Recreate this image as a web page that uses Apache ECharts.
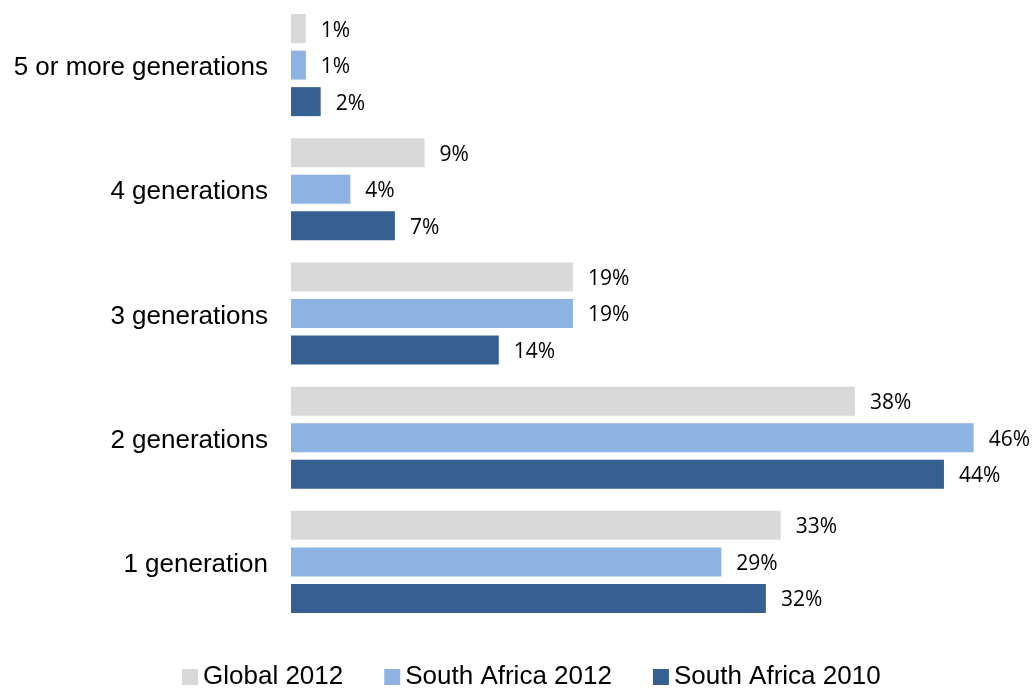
<!DOCTYPE html>
<html>
<head>
<meta charset="utf-8">
<script src="https://cdn.jsdelivr.net/npm/echarts@6/dist/echarts.min.js"></script>
<style>
  html, body { margin: 0; padding: 0; background: #fff; }
  #chart { width: 1033px; height: 688px; }
</style>
</head>
<body>
<div id="chart"></div>
<script>
  // categories, bottom to top
  var categories = ['1 generation', '2 generations', '3 generations', '4 generations', '5 or more generations']
  var seriesNames = ['Global 2012', 'South Africa 2012', 'South Africa 2010']
  var global2012 = [33, 38, 19, 9, 1]
  var southAfrica2012 = [29, 46, 19, 4, 1]
  var southAfrica2010 = [32, 44, 14, 7, 2]
  var colors = ['#d9d9d9', '#8db3e2', '#366092']

  var chart = echarts.init(document.getElementById('chart'))

  function makeSeries (name, data, color) {
    return {
      name: name,
      type: 'bar',
      data: data,
      barWidth: 29,
      barGap: '26%',
      itemStyle: {color: color},
      label: {
        show: true,
        position: 'right',
        distance: 15,
        offset: [0, 2],
        formatter: '{c}%',
        color: '#000',
        fontFamily: 'Open Sans',
        fontSize: 21
      },
      animation: false
    }
  }

  chart.setOption({
    grid: {left: 291, top: 3, right: 0, height: 621},
    legend: {
      data: seriesNames,
      left: 182,
      top: 663,
      padding: 0,
      icon: 'rect',
      itemWidth: 16,
      itemHeight: 16,
      itemGap: 41,
      textStyle: {fontFamily: 'Liberation Sans', fontSize: 26, color: '#000', lineHeight: 28}
    },
    xAxis: {
      type: 'value',
      min: 0,
      max: 50,
      show: false
    },
    yAxis: {
      type: 'category',
      data: categories,
      axisLine: {show: false},
      axisTick: {show: false},
      axisLabel: {
        margin: 23,
        color: '#000',
        fontFamily: 'Liberation Sans',
        fontSize: 26,
        verticalAlign: 'top',
        lineHeight: 6
      }
    },
    // first series is drawn on top inside each group
    series: [
      makeSeries(seriesNames[0], global2012, colors[0]),
      makeSeries(seriesNames[1], southAfrica2012, colors[1]),
      makeSeries(seriesNames[2], southAfrica2010, colors[2])
    ]
  })
</script>
</body>
</html>
